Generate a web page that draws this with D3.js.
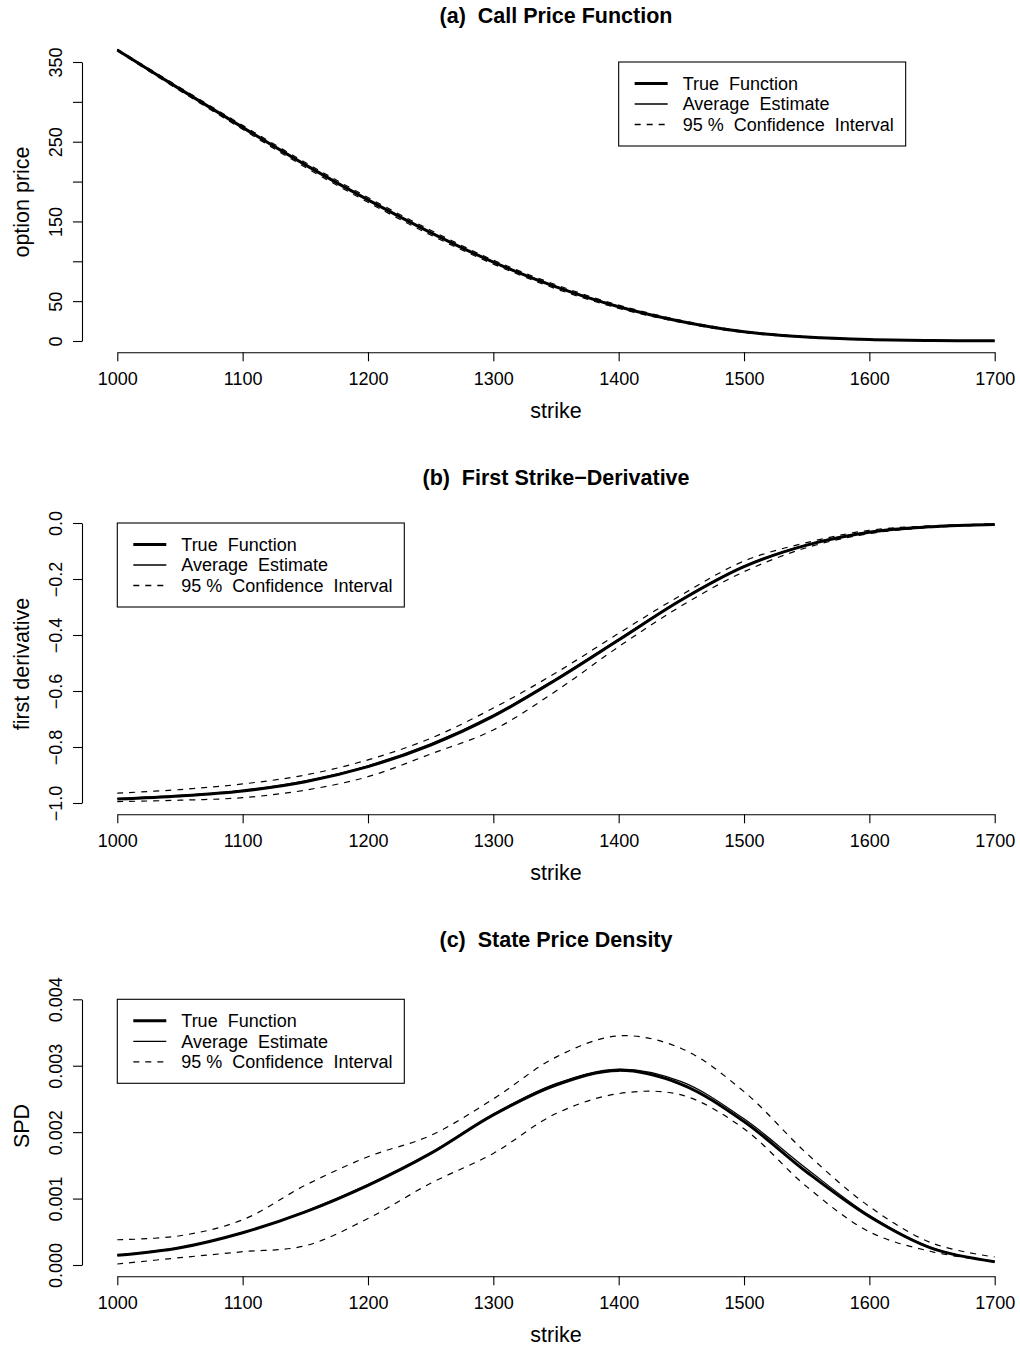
<!DOCTYPE html>
<html>
<head>
<meta charset="utf-8"/>
<script src="https://cdnjs.cloudflare.com/ajax/libs/d3/7.8.5/d3.min.js"></script>
<style>
  body { margin: 0; background: #fff; }
  svg { display: block; font-family: "Liberation Sans", Arial, Helvetica, sans-serif; }
</style>
</head>
<body>
<script>
// strike grid, read every 50
const strikes = [1000, 1050, 1100, 1150, 1200, 1250, 1300, 1350, 1400, 1450, 1500, 1550, 1600, 1650, 1700];
const xTicks = [1000, 1100, 1200, 1300, 1400, 1500, 1600, 1700];

// (a) call price
const callTrue  = [365, 316, 268, 221, 177, 136, 99, 68, 43, 24.5, 11.5, 5, 1.8, 0.6, 0.2];
const callAvg   = [365.5, 316.5, 268.5, 221.5, 177.5, 136.5, 99.5, 68.5, 43.5, 24.8, 11.7, 5.1, 1.9, 0.6, 0.2];
const callUpper = [366, 318, 270.5, 224, 180, 139, 101.5, 70.5, 45, 25.8, 12.4, 5.6, 2.1, 0.8, 0.3];
const callLower = [364, 314, 265.5, 218, 174, 133, 96.5, 65.5, 41, 23.2, 10.6, 4.4, 1.5, 0.4, 0.1];
const callTicks  = [0, 50, 100, 150, 200, 250, 300, 350];
const callLabels = [0, 50, 150, 250, 350];

// (b) first derivative
const derivTrue  = [-0.986, -0.975, -0.957, -0.924, -0.870, -0.793, -0.690, -0.560, -0.418, -0.275, -0.156, -0.079, -0.033, -0.013, -0.005];
const derivAvg   = [-0.984, -0.973, -0.955, -0.921, -0.867, -0.789, -0.686, -0.556, -0.414, -0.272, -0.154, -0.078, -0.032, -0.012, -0.005];
const derivUpper = [-0.965, -0.952, -0.932, -0.900, -0.846, -0.769, -0.661, -0.535, -0.394, -0.257, -0.136, -0.070, -0.026, -0.010, -0.003];
const derivLower = [-0.995, -0.990, -0.981, -0.954, -0.906, -0.825, -0.739, -0.600, -0.442, -0.296, -0.174, -0.088, -0.038, -0.016, -0.007];
const derivTicks = [-1, -0.8, -0.6, -0.4, -0.2, 0];

// (c) state price density
const spdTrue  = [0.000145, 0.00026, 0.000486, 0.0008, 0.0012, 0.00168, 0.00226, 0.00271, 0.00293, 0.00272, 0.00216, 0.0014, 0.00073, 0.00025, 0.00005];
const spdAvg   = [0.00015, 0.000265, 0.00049, 0.00081, 0.00121, 0.00169, 0.00227, 0.00273, 0.00295, 0.00276, 0.0022, 0.00145, 0.00075, 0.00026, 0.00005];
const spdUpper = [0.00038, 0.00044, 0.00068, 0.0012, 0.00163, 0.00195, 0.0025, 0.00313, 0.00345, 0.00326, 0.00261, 0.00168, 0.00088, 0.00033, 0.00012];
const spdLower = [0.000015, 0.00011, 0.0002, 0.00029, 0.0007, 0.00123, 0.00168, 0.00228, 0.00258, 0.00256, 0.00205, 0.00118, 0.0005, 0.0002, 0.00005];
const spdTicks = [0, 0.001, 0.002, 0.003, 0.004];

const legendLabels = ["True  Function", "Average  Estimate", "95 %  Confidence  Interval"];

const panels = [
  {off: 0,   title: "(a)  Call Price Function",        ylab: "option price",     dom: [0, 350], top: 62,
   ticks: callTicks, labels: callLabels, fmt: d3.format("d"),
   tr: callTrue, av: callAvg, up: callUpper, lo: callLower, leg: [1400, 350]},
  {off: 462, title: "(b)  First Strike\u2212Derivative", ylab: "first derivative", dom: [-1, 0], top: 523,
   ticks: derivTicks, labels: derivTicks, fmt: d3.format(".1f"),
   tr: derivTrue, av: derivAvg, up: derivUpper, lo: derivLower, leg: [1000, 0]},
  {off: 924, title: "(c)  State Price Density",        ylab: "SPD",              dom: [0, 0.004], top: 999.3,
   ticks: spdTicks, labels: spdTicks, fmt: d3.format(".3f"),
   tr: spdTrue, av: spdAvg, up: spdUpper, lo: spdLower, leg: [1000, 0.004]}
];

const W = 1020, H = 1348;
const svg = d3.select("body").append("svg").attr("width", W).attr("height", H);
svg.append("rect").attr("width", W).attr("height", H).attr("fill", "#fff");

const x = d3.scaleLinear().domain([1000, 1700]).range([117.3, 994.7]);

panels.forEach(p => {
  const y = d3.scaleLinear().domain(p.dom).range([p.off + 341, p.top]);
  const g = svg.append("g");
  const line = d3.line().x((d, i) => x(strikes[i])).y(d => y(d)).curve(d3.curveCatmullRom);

  // title and axis titles
  g.append("text").attr("x", 556).attr("y", p.off + 23).attr("text-anchor", "middle")
    .attr("font-size", 21.5).attr("font-weight", "bold").style("white-space", "pre").text(p.title);
  g.append("text").attr("x", 556).attr("y", p.off + 418).attr("text-anchor", "middle")
    .attr("font-size", 21.5).text("strike");
  g.append("text").attr("transform", `translate(29,${p.off + 202}) rotate(-90)`)
    .attr("text-anchor", "middle").attr("font-size", 21.5).text(p.ylab);

  // x axis
  const xa = g.append("g").attr("transform", `translate(0,${p.off + 352.3})`)
    .call(d3.axisBottom(x).tickValues(xTicks).tickSize(9).tickSizeOuter(0).tickFormat(d3.format("d")));
  xa.selectAll("text").attr("y", 33).attr("dy", 0).attr("font-size", 18).attr("fill", "#000");

  // y axis
  const ya = g.append("g").attr("transform", "translate(82,0)")
    .call(d3.axisLeft(y).tickValues(p.ticks).tickSize(9).tickSizeOuter(0)
      .tickFormat(d => p.labels.includes(d) ? p.fmt(d) : ""));
  ya.selectAll("text").attr("transform", "rotate(-90)").attr("x", 0).attr("y", -20).attr("dy", 0)
    .attr("text-anchor", "middle").attr("font-size", 18).attr("fill", "#000");
  g.selectAll(".domain, .tick line").attr("stroke", "#000").attr("stroke-width", 1.1);
  xa.attr("font-family", null); ya.attr("font-family", null);

  // curves
  g.append("path").attr("d", line(p.up)).attr("fill", "none").attr("stroke", "#000")
    .attr("stroke-width", 1.2).attr("stroke-dasharray", "6,6");
  g.append("path").attr("d", line(p.lo)).attr("fill", "none").attr("stroke", "#000")
    .attr("stroke-width", 1.2).attr("stroke-dasharray", "6,6");
  g.append("path").attr("d", line(p.tr)).attr("fill", "none").attr("stroke", "#000").attr("stroke-width", 3);
  g.append("path").attr("d", line(p.av)).attr("fill", "none").attr("stroke", "#000").attr("stroke-width", 1.2);

  // legend
  const lx = x(p.leg[0]), ly = y(p.leg[1]);
  const lg = g.append("g").attr("transform", `translate(${lx},${ly})`);
  lg.append("rect").attr("width", 287).attr("height", 84).attr("fill", "#fff")
    .attr("stroke", "#000").attr("stroke-width", 1.1);
  const rows = [21.5, 42, 62.5];
  const styles = [{w: 3, dash: null}, {w: 1.3, dash: null}, {w: 1.3, dash: "6,6"}];
  legendLabels.forEach((t, i) => {
    lg.append("line").attr("x1", 16).attr("x2", 49).attr("y1", rows[i]).attr("y2", rows[i])
      .attr("stroke", "#000").attr("stroke-width", styles[i].w).attr("stroke-dasharray", styles[i].dash);
    lg.append("text").attr("x", 64).attr("y", rows[i]).attr("dy", "0.35em").attr("font-size", 18)
      .style("white-space", "pre").text(t);
  });
});
</script>
</body>
</html>
